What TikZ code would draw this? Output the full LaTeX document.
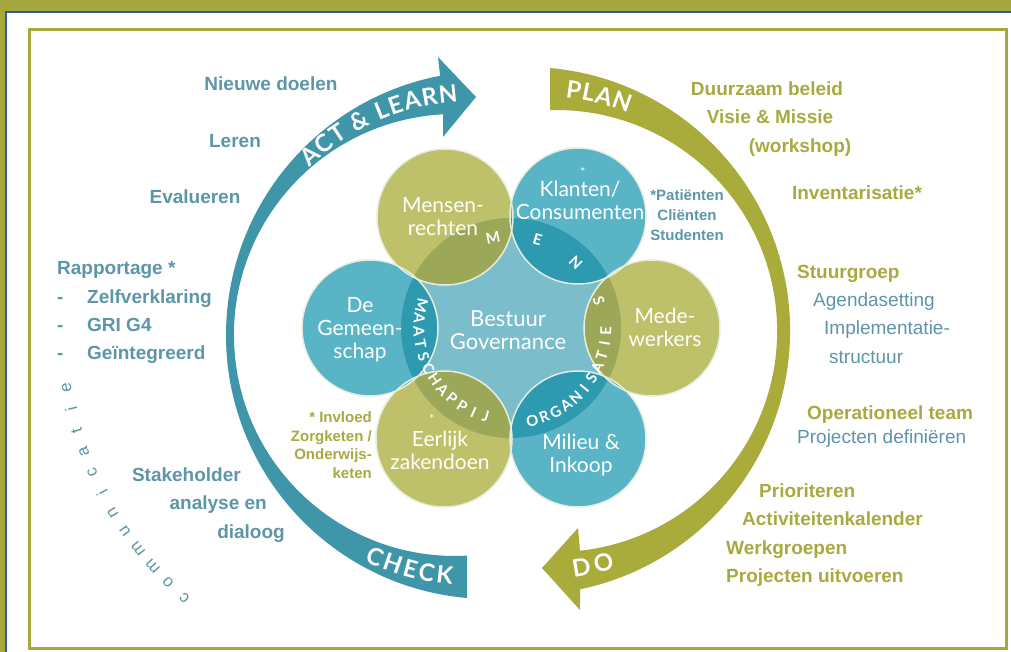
\documentclass[tikz,border=0pt]{standalone}
\usepackage{fontspec}
\setmainfont{Liberation Sans}
\newfontfamily\gill{Lato}
\usetikzlibrary{calc,decorations.text}

\definecolor{olivebg}{RGB}{166,168,62}
\definecolor{frameblue}{RGB}{52,88,168}
\definecolor{tealarr}{RGB}{63,150,168}
\definecolor{olivearr}{RGB}{169,171,59}
\definecolor{tealcirc}{RGB}{89,180,197}
\definecolor{olivecirc}{RGB}{191,192,106}
\definecolor{tealdark}{RGB}{46,154,176}
\definecolor{olivedark}{RGB}{157,167,88}
\definecolor{centre}{RGB}{123,189,203}
\definecolor{tealtext}{RGB}{92,150,168}
\definecolor{olivetext}{RGB}{168,170,64}
\definecolor{rimline}{RGB}{230,238,222}

\newcommand\arrowfont{\gill\bfseries\fontsize{24}{24}\selectfont}
% letters set one by one round a circle: style, name, centre, radius, first angle, step, turn, letters
\newcommand\ringletters[8]{%
  \foreach \ch [count=\k from 0] in {#8}{%
    \pgfmathsetmacro\ang{#5+\k*(#6)}%
    \node[#1,rotate=#7-\ang] (#2\k) at ($(#3)+(\ang:#4)$) {\ch};}}

\begin{document}
\begin{tikzpicture}[x=1pt,y=-1pt,
    lefttext/.style={text=tealtext,font=\fontsize{19}{22}\selectfont\bfseries,inner sep=0,text height=13.5pt,text depth=0pt},
    righttext/.style={text=olivetext,font=\fontsize{19}{22}\selectfont\bfseries,inner sep=0,text height=13.5pt,text depth=0pt},
    plaintext/.style={text=tealtext,font=\fontsize{19}{22}\selectfont,inner sep=0,text height=13.5pt,text depth=0pt},
    notetext/.style={font=\fontsize{15}{20}\selectfont\bfseries,inner sep=0},
    petal/.style={text=white,font=\gill\fontsize{21}{23}\selectfont,align=center,inner sep=0},
    ringfont/.style={text=white,font=\gill\bfseries\fontsize{15}{15}\selectfont,inner sep=0},
    commfont/.style={text=tealtext,font=\fontsize{17}{17}\selectfont,inner sep=0},
    arrowlabel/.style={decorate,decoration={text along path,text color=white,text align={fit to path},raise=-8.5pt,text={|\arrowfont|#1}}}]
  %%%%% START %%%%%
  \useasboundingbox (0,0) rectangle (1011,652);

  \fill[olivebg] (0,0) rectangle (1011,652);
  \fill[white] (7,13) rectangle (1011,652);
  \draw[frameblue,line width=2] (6,652) -- (6,12) -- (1011,12);
  \draw[olivebg,line width=3] (29,30) rectangle (1006,648);

  % the two arrows
  \fill[tealarr] (467,598) arc[start angle=95,end angle=259.1,radius=264]
    -- (438,57) -- (476,97) -- (443,137) -- (443,114.3)
    arc[start angle=266.9,end angle=86.9,radius=221] -- cycle;
  \fill[olivearr] (550,68) arc[start angle=-84.8,end angle=78.2,radius=264]
    -- (580,610) -- (542,568) -- (578,528) -- (580,550.7)
    arc[start angle=83.8,end angle=-91.55,radius=221] -- cycle;

  \path[arrowlabel={ACT {\&} LEARN}] ($(472,335)+(226:242)$) arc[start angle=226,end angle=266.5,radius=242];
  \path[arrowlabel={CHECK}] ($(472,335)+(115.5:242)$) arc[start angle=115.5,end angle=94.5,radius=242];
  \path[arrowlabel={PLAN}] ($(541,331)+(-84:243)$) arc[start angle=-84,end angle=-68.3,radius=243];
  \path[arrowlabel={DO}] ($(541,331)+(82.5:240)$) arc[start angle=82.5,end angle=72.6,radius=240];

  % flower
  \fill[olivecirc] (445,217) circle[radius=68];
  \fill[tealcirc] (578,216) circle[radius=68];
  \fill[olivecirc] (652,328) circle[radius=68];
  \fill[tealcirc] (578,439) circle[radius=68];
  \fill[olivecirc] (444,439) circle[radius=68];
  \fill[tealcirc] (370,328) circle[radius=68];
  \fill[centre] (511,328) circle[radius=110];
  \begin{scope}
    \clip (511,328) circle[radius=110];
    \fill[olivedark] (445,217) circle[radius=68];
    \fill[tealdark] (578,216) circle[radius=68];
    \fill[olivedark] (652,328) circle[radius=68];
    \fill[tealdark] (578,439) circle[radius=68];
    \fill[olivedark] (444,439) circle[radius=68];
    \fill[tealdark] (370,328) circle[radius=68];
  \end{scope}
  \foreach \cx/\cy in {445/217,578/216,652/328,578/439,444/439,370/328}
    \draw[rimline,line width=1.5] (\cx,\cy) circle[radius=68];

  \node[petal] (mensen) at (443,217) {Mensen-\\rechten};
  \node[petal] (klanten) at (580,200) {Klanten/\\Consumenten};
  \node[petal] (klster) at (583,172) {\fontsize{12}{12}\selectfont*};
  \node[petal] (mede) at (665,327) {Mede-\\werkers};
  \node[petal] (milieu) at (581,455) {Milieu \&\\Inkoop};
  \node[petal] (eerlijk) at (440,450) {Eerlijk\\zakendoen};
  \node[petal] (eerster) at (432,419) {\fontsize{12}{12}\selectfont*};
  \node[petal] (gemeen) at (360,330) {De\\Gemeen-\\schap};
  \node[petal,font=\gill\fontsize{22}{23}\selectfont] (bestuur) at (508,330) {Bestuur\\Governance};

  \ringletters{ringfont}{mens}{511,328}{92}{258.7}{28}{-90}{M,E,N,S}
  \ringletters{ringfont}{maat}{511,328}{92}{194}{-8.0}{90}{M,A,A,T,S,C,H,A,P,P,I,J}
  \ringletters{ringfont}{orga}{511,328}{95}{77}{-7.5}{90}{O,R,G,A,N,I,S,A,T,I,E}

  \node[notetext,text=tealtext,align=center] (doelgroep) at (687,215) {*Patiënten\\Cliënten\\Studenten};
  \node[notetext,text=olivetext,align=right,anchor=east,font=\fontsize{15}{18.7}\selectfont\bfseries] (invloed) at (372,445) {* Invloed\\Zorgketen /\\Onderwijs-\\keten};

  % left column
  \node[lefttext] (nieuw) at (271,84) {Nieuwe doelen};
  \node[lefttext] (leren) at (235,141) {Leren};
  \node[lefttext] (eval) at (195,197) {Evalueren};
  \node[lefttext,anchor=west] (rapp) at (57,268) {Rapportage *};
  \node[lefttext,anchor=west] (streep1) at (57,297) {-};
  \node[lefttext,anchor=west] (zelf) at (87,297) {Zelfverklaring};
  \node[lefttext,anchor=west] (streep2) at (57,325) {-};
  \node[lefttext,anchor=west] (gri) at (87,325) {GRI G4};
  \node[lefttext,anchor=west] (streep3) at (57,353) {-};
  \node[lefttext,anchor=west] (geint) at (87,353) {Geïntegreerd};
  \node[lefttext,anchor=east] (stake) at (241,475) {Stakeholder};
  \node[lefttext,anchor=east] (analyse) at (267,503) {analyse en};
  \node[lefttext,anchor=east] (dialoog) at (285,532) {dialoog};
  \ringletters{commfont}{comm}{418,329}{356}{131}{3.6}{-90}{c,o,m,m,u,n,i,c,a,t,i,e}

  % right column
  \node[righttext] (beleid) at (767,89) {Duurzaam beleid};
  \node[righttext] (visie) at (770,117) {Visie \& Missie};
  \node[righttext] (workshop) at (800,146) {(workshop)};
  \node[righttext] (invent) at (857,193) {Inventarisatie*};
  \node[righttext,anchor=west] (stuur) at (797,272) {Stuurgroep};
  \node[plaintext,anchor=west] (agenda) at (813,300) {Agendasetting};
  \node[plaintext,anchor=west] (impl) at (824,328) {Implementatie-};
  \node[plaintext,anchor=west] (struct) at (829,357) {structuur};
  \node[righttext,anchor=west] (opteam) at (807,413) {Operationeel team};
  \node[plaintext,anchor=west] (projdef) at (797,437) {Projecten definiëren};
  \node[righttext,anchor=west] (prior) at (759,491) {Prioriteren};
  \node[righttext,anchor=west] (kalender) at (742,519) {Activiteitenkalender};
  \node[righttext,anchor=west] (werkgr) at (726,548) {Werkgroepen};
  \node[righttext,anchor=west] (uitvoer) at (726,576) {Projecten uitvoeren};
  %%%%% END %%%%%
\end{tikzpicture}
\end{document}
